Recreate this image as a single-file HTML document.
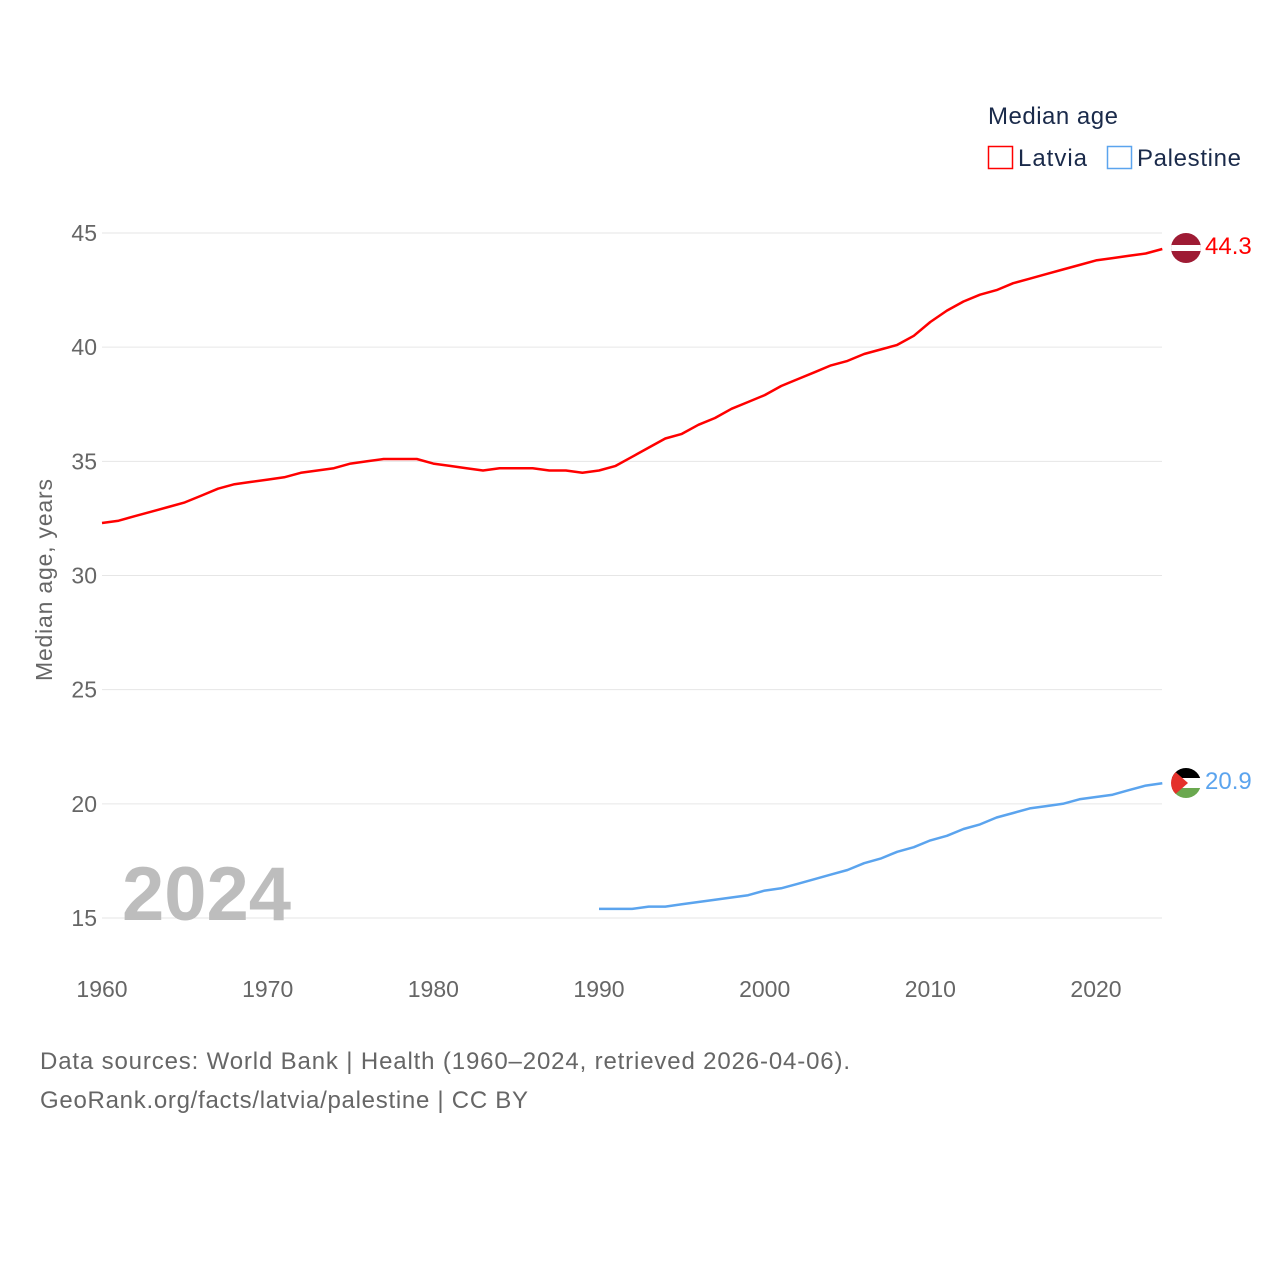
<!DOCTYPE html>
<html><head><meta charset="utf-8">
<style>
html,body{margin:0;padding:0;background:#fff;width:1280px;height:1280px;overflow:hidden}
text{font-family:"Liberation Sans",sans-serif}
</style></head>
<body>
<svg id="chart" width="1280" height="1280" viewBox="0 0 1280 1280">
<g id="grid"></g>
<g id="yticks"></g>
<g id="xticks"></g>
<text x="52" y="580" transform="rotate(-90 52 580)" text-anchor="middle" font-size="23" fill="#666" textLength="202">Median age, years</text>
<text x="122" y="920" font-size="76" font-weight="bold" fill="#bdbdbd">2024</text>
<g id="series"></g>
<g>
<text x="988" y="124" font-size="24" fill="#1a2a4a" textLength="130">Median age</text>
<rect x="988.5" y="146.5" width="24" height="22" fill="none" stroke="#ff0000" stroke-width="1.5"/>
<text x="1018" y="166" font-size="24" fill="#1a2a4a" textLength="69">Latvia</text>
<rect x="1107.5" y="146.5" width="24" height="22" fill="none" stroke="#5ba4ee" stroke-width="1.5"/>
<text x="1137" y="166" font-size="24" fill="#1a2a4a" textLength="104">Palestine</text>
</g>
<g>
<clipPath id="c1"><circle cx="1186" cy="248" r="15"/></clipPath>
<g clip-path="url(#c1)"><rect x="1171" y="233" width="30" height="30" fill="#9e1b34"/><rect x="1171" y="245" width="30" height="6" fill="#fff"/></g>
</g>
<g>
<clipPath id="c2"><circle cx="1186" cy="783" r="15"/></clipPath>
<g clip-path="url(#c2)"><rect x="1171" y="768" width="30" height="10" fill="#000"/><rect x="1171" y="778" width="30" height="10" fill="#fff"/><rect x="1171" y="788" width="30" height="10" fill="#6aa84f"/><polygon points="1171,768 1188,783 1171,798" fill="#e4312b"/></g>
</g>
<text x="1205" y="254" font-size="24" fill="#ff0000">44.3</text>
<text x="1205" y="789" font-size="24" fill="#5ba4ee">20.9</text>
<text x="40" y="1069" font-size="24" fill="#666" textLength="810">Data sources: World Bank | Health (1960–2024, retrieved 2026-04-06).</text>
<text x="40" y="1108" font-size="24" fill="#666" textLength="488">GeoRank.org/facts/latvia/palestine | CC BY</text>
</svg>
<script>
const yTicks=[15,20,25,30,35,40,45];
const xTicks=[1960,1970,1980,1990,2000,2010,2020];
const latviaStart=1960;
const latviaValues=[32.3,32.4,32.6,32.8,33.0,33.2,33.5,33.8,34.0,34.1,34.2,34.3,34.5,34.6,34.7,34.9,35.0,35.1,35.1,35.1,34.9,34.8,34.7,34.6,34.7,34.7,34.7,34.6,34.6,34.5,34.6,34.8,35.2,35.6,36.0,36.2,36.6,36.9,37.3,37.6,37.9,38.3,38.6,38.9,39.2,39.4,39.7,39.9,40.1,40.5,41.1,41.6,42.0,42.3,42.5,42.8,43.0,43.2,43.4,43.6,43.8,43.9,44.0,44.1,44.3];
const palestineStart=1990;
const palestineValues=[15.4,15.4,15.4,15.5,15.5,15.6,15.7,15.8,15.9,16.0,16.2,16.3,16.5,16.7,16.9,17.1,17.4,17.6,17.9,18.1,18.4,18.6,18.9,19.1,19.4,19.6,19.8,19.9,20.0,20.2,20.3,20.4,20.6,20.8,20.9];
const NS='http://www.w3.org/2000/svg';
const xS=y=>102+(y-1960)*(1096-102)/60;
const yS=v=>918-(v-15)*(918-233)/30;
function mk(tag,attrs,parent){const e=document.createElementNS(NS,tag);for(const k in attrs)e.setAttribute(k,attrs[k]);parent.appendChild(e);return e;}
const grid=document.getElementById('grid'),yt=document.getElementById('yticks'),xt=document.getElementById('xticks'),ser=document.getElementById('series');
yTicks.forEach(v=>{
 const l=mk('line',{x1:102,x2:1162,y1:yS(v),y2:yS(v),stroke:'#e6e6e6','stroke-width':1},grid);
 
 
 const t=mk('text',{x:97,y:yS(v)+8,'text-anchor':'end','font-size':23,fill:'#666'},yt);
 t.textContent=v;
 
 
});
xTicks.forEach(y=>{
 const t=mk('text',{x:xS(y),y:997,'text-anchor':'middle','font-size':23,fill:'#666'},xt);
 t.textContent=y;
 
 
});
function line(start,vals,color,name){
 const d=vals.map((v,i)=>(i?'L':'M')+xS(start+i).toFixed(1)+','+yS(v).toFixed(1)).join('');
 const p=mk('path',{d:d,fill:'none',stroke:color,'stroke-width':2.5,'stroke-linejoin':'round'},ser);
 
 
}
line(latviaStart,latviaValues,'#ff0000','latvia-line');
line(palestineStart,palestineValues,'#5ba4ee','palestine-line');
</script>
</body></html>
